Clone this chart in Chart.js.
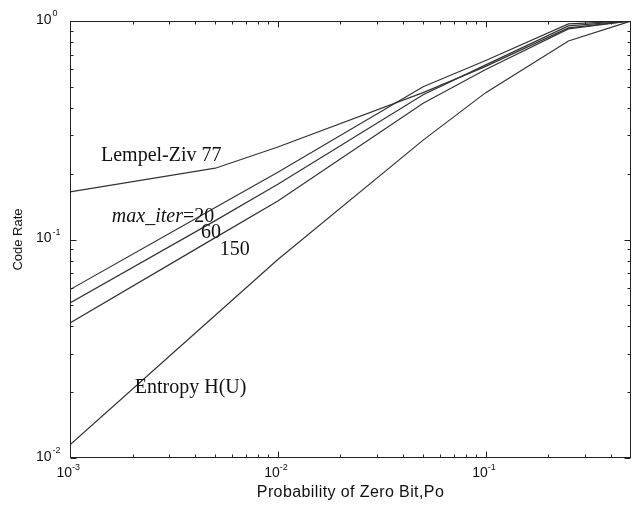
<!DOCTYPE html>
<html>
<head>
<meta charset="utf-8">
<script src="https://cdn.jsdelivr.net/npm/chart.js@4/dist/chart.umd.min.js"></script>
<style>
  html, body { margin: 0; padding: 0; background: #fff; }
  #wrap { width: 640px; height: 508px; }
</style>
</head>
<body>
<div id="wrap"><canvas id="c" width="640" height="508"></canvas></div>
<script>
// ---- data ----
const probZero   = [0.001, 0.005, 0.01, 0.05, 0.1, 0.25, 0.5];
const lempelZiv  = [0.165, 0.212, 0.265, 0.47, 0.62, 0.93, 1.0];
const iter20     = [0.059, 0.14, 0.203, 0.50, 0.66, 0.97, 1.0];
const iter60     = [0.0512, 0.122, 0.179, 0.46, 0.63, 0.95, 1.0];
const iter150    = [0.0415, 0.102, 0.150, 0.42, 0.60, 0.92, 1.0];
const entropyHU  = [0.0115, 0.045, 0.081, 0.285, 0.47, 0.81, 1.0];

// ---- axis ticks ----
const xMajorTicks = [0.001, 0.01, 0.1];
const xMajorLabels = [['10', '-3'], ['10', '-2'], ['10', '-1']];
const xMinorTicks = [0.002, 0.003, 0.004, 0.005, 0.006, 0.007, 0.008, 0.009,
                     0.02, 0.03, 0.04, 0.05, 0.06, 0.07, 0.08, 0.09,
                     0.2, 0.3, 0.4];
const yMajorTicks = [0.01, 0.1, 1];
const yMajorLabels = [['10', '-2'], ['10', '-1'], ['10', '0']];
const yMinorTicks = [0.02, 0.03, 0.04, 0.05, 0.06, 0.07, 0.08, 0.09,
                     0.2, 0.3, 0.4, 0.5, 0.6, 0.7, 0.8, 0.9];

const xTitle = 'Probability of Zero Bit,Po';
const yTitle = 'Code Rate';

function pts(ys) { return probZero.map((p, i) => ({ x: p, y: ys[i] })); }

const lineStyle = { borderColor: '#333', borderWidth: 1.2, pointRadius: 0, showLine: true, fill: false, tension: 0 };

const annotations = [
  { parts: [['Lempel-Ziv 77', false]], x: 0.00141, y: 0.2286 },
  { parts: [['max_iter', true], ['=20', false]], x: 0.00159, y: 0.1202 },
  { parts: [['60', false]], x: 0.00427, y: 0.1016 },
  { parts: [['150', false]], x: 0.00526, y: 0.0849 },
  { parts: [['Entropy H(U)', false]], x: 0.00205, y: 0.0198 }
];

const framePlugin = {
  id: 'frame',
  afterDraw(chart) {
    const ctx = chart.ctx;
    const a = chart.chartArea;
    const xs = chart.scales.x, ys = chart.scales.y;
    const L = Math.round(a.left) + 0.5, R = Math.round(a.right) - 0.5;
    const T = Math.round(a.top) + 0.5, B = Math.round(a.bottom) - 0.5;
    ctx.save();
    ctx.strokeStyle = '#222';
    ctx.lineWidth = 1;
    ctx.strokeRect(L, T, R - L, B - T);
    ctx.beginPath();
    const tick = (v, len, isX) => {
      if (isX) {
        const px = Math.round(xs.getPixelForValue(v)) + 0.5;
        ctx.moveTo(px, B); ctx.lineTo(px, B - len);
        ctx.moveTo(px, T); ctx.lineTo(px, T + len);
      } else {
        const py = Math.round(ys.getPixelForValue(v)) + 0.5;
        ctx.moveTo(L, py); ctx.lineTo(L + len, py);
        ctx.moveTo(R, py); ctx.lineTo(R - len, py);
      }
    };
    xMajorTicks.forEach(v => tick(v, 6, true));
    xMinorTicks.forEach(v => tick(v, 3, true));
    yMajorTicks.forEach(v => tick(v, 6, false));
    yMinorTicks.forEach(v => tick(v, 3, false));
    ctx.stroke();

    // tick labels with superscript exponents
    ctx.fillStyle = '#111';
    ctx.textBaseline = 'middle';
    const base = '14px "Liberation Sans", Arial, sans-serif';
    const sup = '9px "Liberation Sans", Arial, sans-serif';
    xMajorTicks.forEach((v, i) => {
      const px = xs.getPixelForValue(v);
      const [b, e] = xMajorLabels[i];
      ctx.font = base; ctx.textAlign = 'right';
      ctx.fillText(b, px + 2, B + 16);
      ctx.font = sup; ctx.textAlign = 'left';
      ctx.fillText(e, px + 2, B + 10);
    });
    yMajorTicks.forEach((v, i) => {
      const py = ys.getPixelForValue(v);
      const [b, e] = yMajorLabels[i];
      ctx.font = base; ctx.textAlign = 'left';
      ctx.fillText(b, 36, py - 1);
      const w = ctx.measureText(b).width;
      ctx.font = sup;
      ctx.fillText(e, 36 + w + 1, py - 7);
    });

    // axis titles
    ctx.font = '16px "Liberation Sans", Arial, sans-serif';
    ctx.textAlign = 'center';
    try { ctx.letterSpacing = '0.4px'; } catch (e) {}
    ctx.fillText(xTitle, (a.left + a.right) / 2, 493);
    try { ctx.letterSpacing = '0px'; } catch (e) {}
    ctx.save();
    ctx.translate(18, (a.top + a.bottom) / 2);
    ctx.rotate(-Math.PI / 2);
    ctx.font = '13px "Liberation Sans", Arial, sans-serif';
    ctx.fillText(yTitle, 0, 0);
    ctx.restore();

    // in-plot text labels
    ctx.textBaseline = 'alphabetic';
    ctx.textAlign = 'left';
    annotations.forEach(an => {
      let px = xs.getPixelForValue(an.x);
      const py = ys.getPixelForValue(an.y);
      an.parts.forEach(([txt, it]) => {
        ctx.font = (it ? 'italic ' : '') + '20px "Liberation Serif", "Times New Roman", serif';
        ctx.fillText(txt, px, py);
        px += ctx.measureText(txt).width;
      });
    });
    ctx.restore();
  }
};

new Chart(document.getElementById('c'), {
  type: 'scatter',
  data: {
    datasets: [
      Object.assign({ label: 'Lempel-Ziv 77', data: pts(lempelZiv) }, lineStyle),
      Object.assign({ label: 'max_iter=20', data: pts(iter20) }, lineStyle),
      Object.assign({ label: 'max_iter=60', data: pts(iter60) }, lineStyle),
      Object.assign({ label: 'max_iter=150', data: pts(iter150) }, lineStyle),
      Object.assign({ label: 'Entropy H(U)', data: pts(entropyHU) }, lineStyle)
    ]
  },
  options: {
    responsive: false,
    animation: false,
    layout: { padding: { left: 70, top: 21, right: 9, bottom: 50 } },
    plugins: { legend: { display: false }, tooltip: { enabled: false } },
    scales: {
      x: { type: 'logarithmic', min: 0.001, max: 0.5, display: false },
      y: { type: 'logarithmic', min: 0.01, max: 1, display: false }
    }
  },
  plugins: [framePlugin]
});
</script>
</body>
</html>
